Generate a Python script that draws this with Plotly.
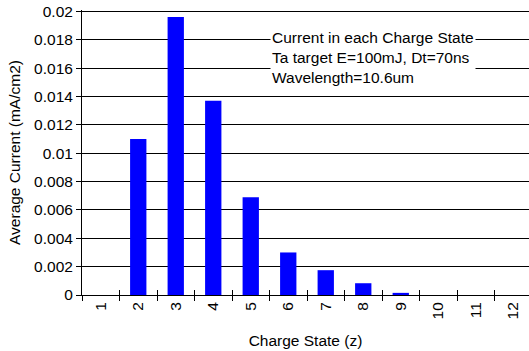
import plotly.graph_objects as go

charge_states = ["1", "2", "3", "4", "5", "6", "7", "8", "9", "10", "11", "12"]
avg_current = [0.0, 0.0110, 0.0196, 0.0137, 0.0069, 0.0030, 0.00175, 0.00083, 0.00015, 0.0, 0.0, 0.0]
y_ticks = [0, 0.002, 0.004, 0.006, 0.008, 0.01, 0.012, 0.014, 0.016, 0.018, 0.02]
y_tick_text = ["0", "0.002", "0.004", "0.006", "0.008", "0.01", "0.012", "0.014", "0.016", "0.018", "0.02"]
legend_lines = ["Current in each Charge State", "Ta target E=100mJ, Dt=70ns", "Wavelength=10.6um"]

FONT = "Liberation Sans"
F = dict(family=FONT, size=15.5, color="#000")
x_range = [-0.5, 11.42]
# a hair above 0.02 so the top gridline is not dropped as an "end" line
y_range = [0, 0.0201]

fig = go.Figure()
fig.add_trace(go.Bar(x=charge_states, y=avg_current, marker=dict(color="#0000FF", line=dict(width=0)),
                     showlegend=False, hoverinfo="x+y"))
# invisible helper trace for the overlay axes (inside half of crossing ticks)
fig.add_trace(go.Scatter(x=charge_states, y=avg_current, xaxis="x2", yaxis="y2", mode="markers",
                         marker=dict(opacity=0), showlegend=False, hoverinfo="skip"))

fig.update_layout(
    width=529, height=351,
    margin=dict(l=82, r=0, t=10, b=55.5, autoexpand=False),
    paper_bgcolor="white", plot_bgcolor="white",
    font=F,
    bargap=0.565,
    xaxis=dict(type="category", categoryorder="array", categoryarray=charge_states, range=x_range,
               tickson="boundaries", ticks="outside", ticklen=5, tickwidth=1, tickcolor="#000",
               tickangle=-90, showline=True, linecolor="#000", linewidth=1, showgrid=False,
               automargin=False, ticklabeloverflow="allow",
               title=dict(text="Charge State (z)", standoff=16, font=F), tickfont=F),
    yaxis=dict(range=y_range, tickvals=y_ticks, ticktext=y_tick_text, ticks="outside", ticklen=5,
               tickwidth=1, tickcolor="#000", showline=True, linecolor="#000", linewidth=1,
               showgrid=True, gridcolor="#000", gridwidth=1, zeroline=False, automargin=False,
               ticklabeloverflow="allow",
               title=dict(text="Average Current (mA/cm2)", standoff=9, font=F), tickfont=F),
    xaxis2=dict(type="category", categoryorder="array", categoryarray=charge_states, range=x_range,
                overlaying="x", anchor="y", tickson="boundaries", ticks="inside", ticklen=5, tickwidth=1,
                tickcolor="#000", showticklabels=False, showline=False, showgrid=False, automargin=False),
    yaxis2=dict(range=y_range, tickvals=y_ticks, overlaying="y", anchor="x", side="left", ticks="inside",
                ticklen=5, tickwidth=1, tickcolor="#000", showticklabels=False, showline=False,
                showgrid=False, zeroline=False, automargin=False),
)

fig.add_annotation(xref="paper", yref="paper", x=0.4206, y=0.939, xanchor="left", yanchor="top",
                   text="<br>".join(legend_lines), showarrow=False, align="left",
                   bgcolor="white", borderpad=1, font=F)

fig.write_html("out.html", config={"displayModeBar": False},
               post_script="document.body.style.margin='0px';")
